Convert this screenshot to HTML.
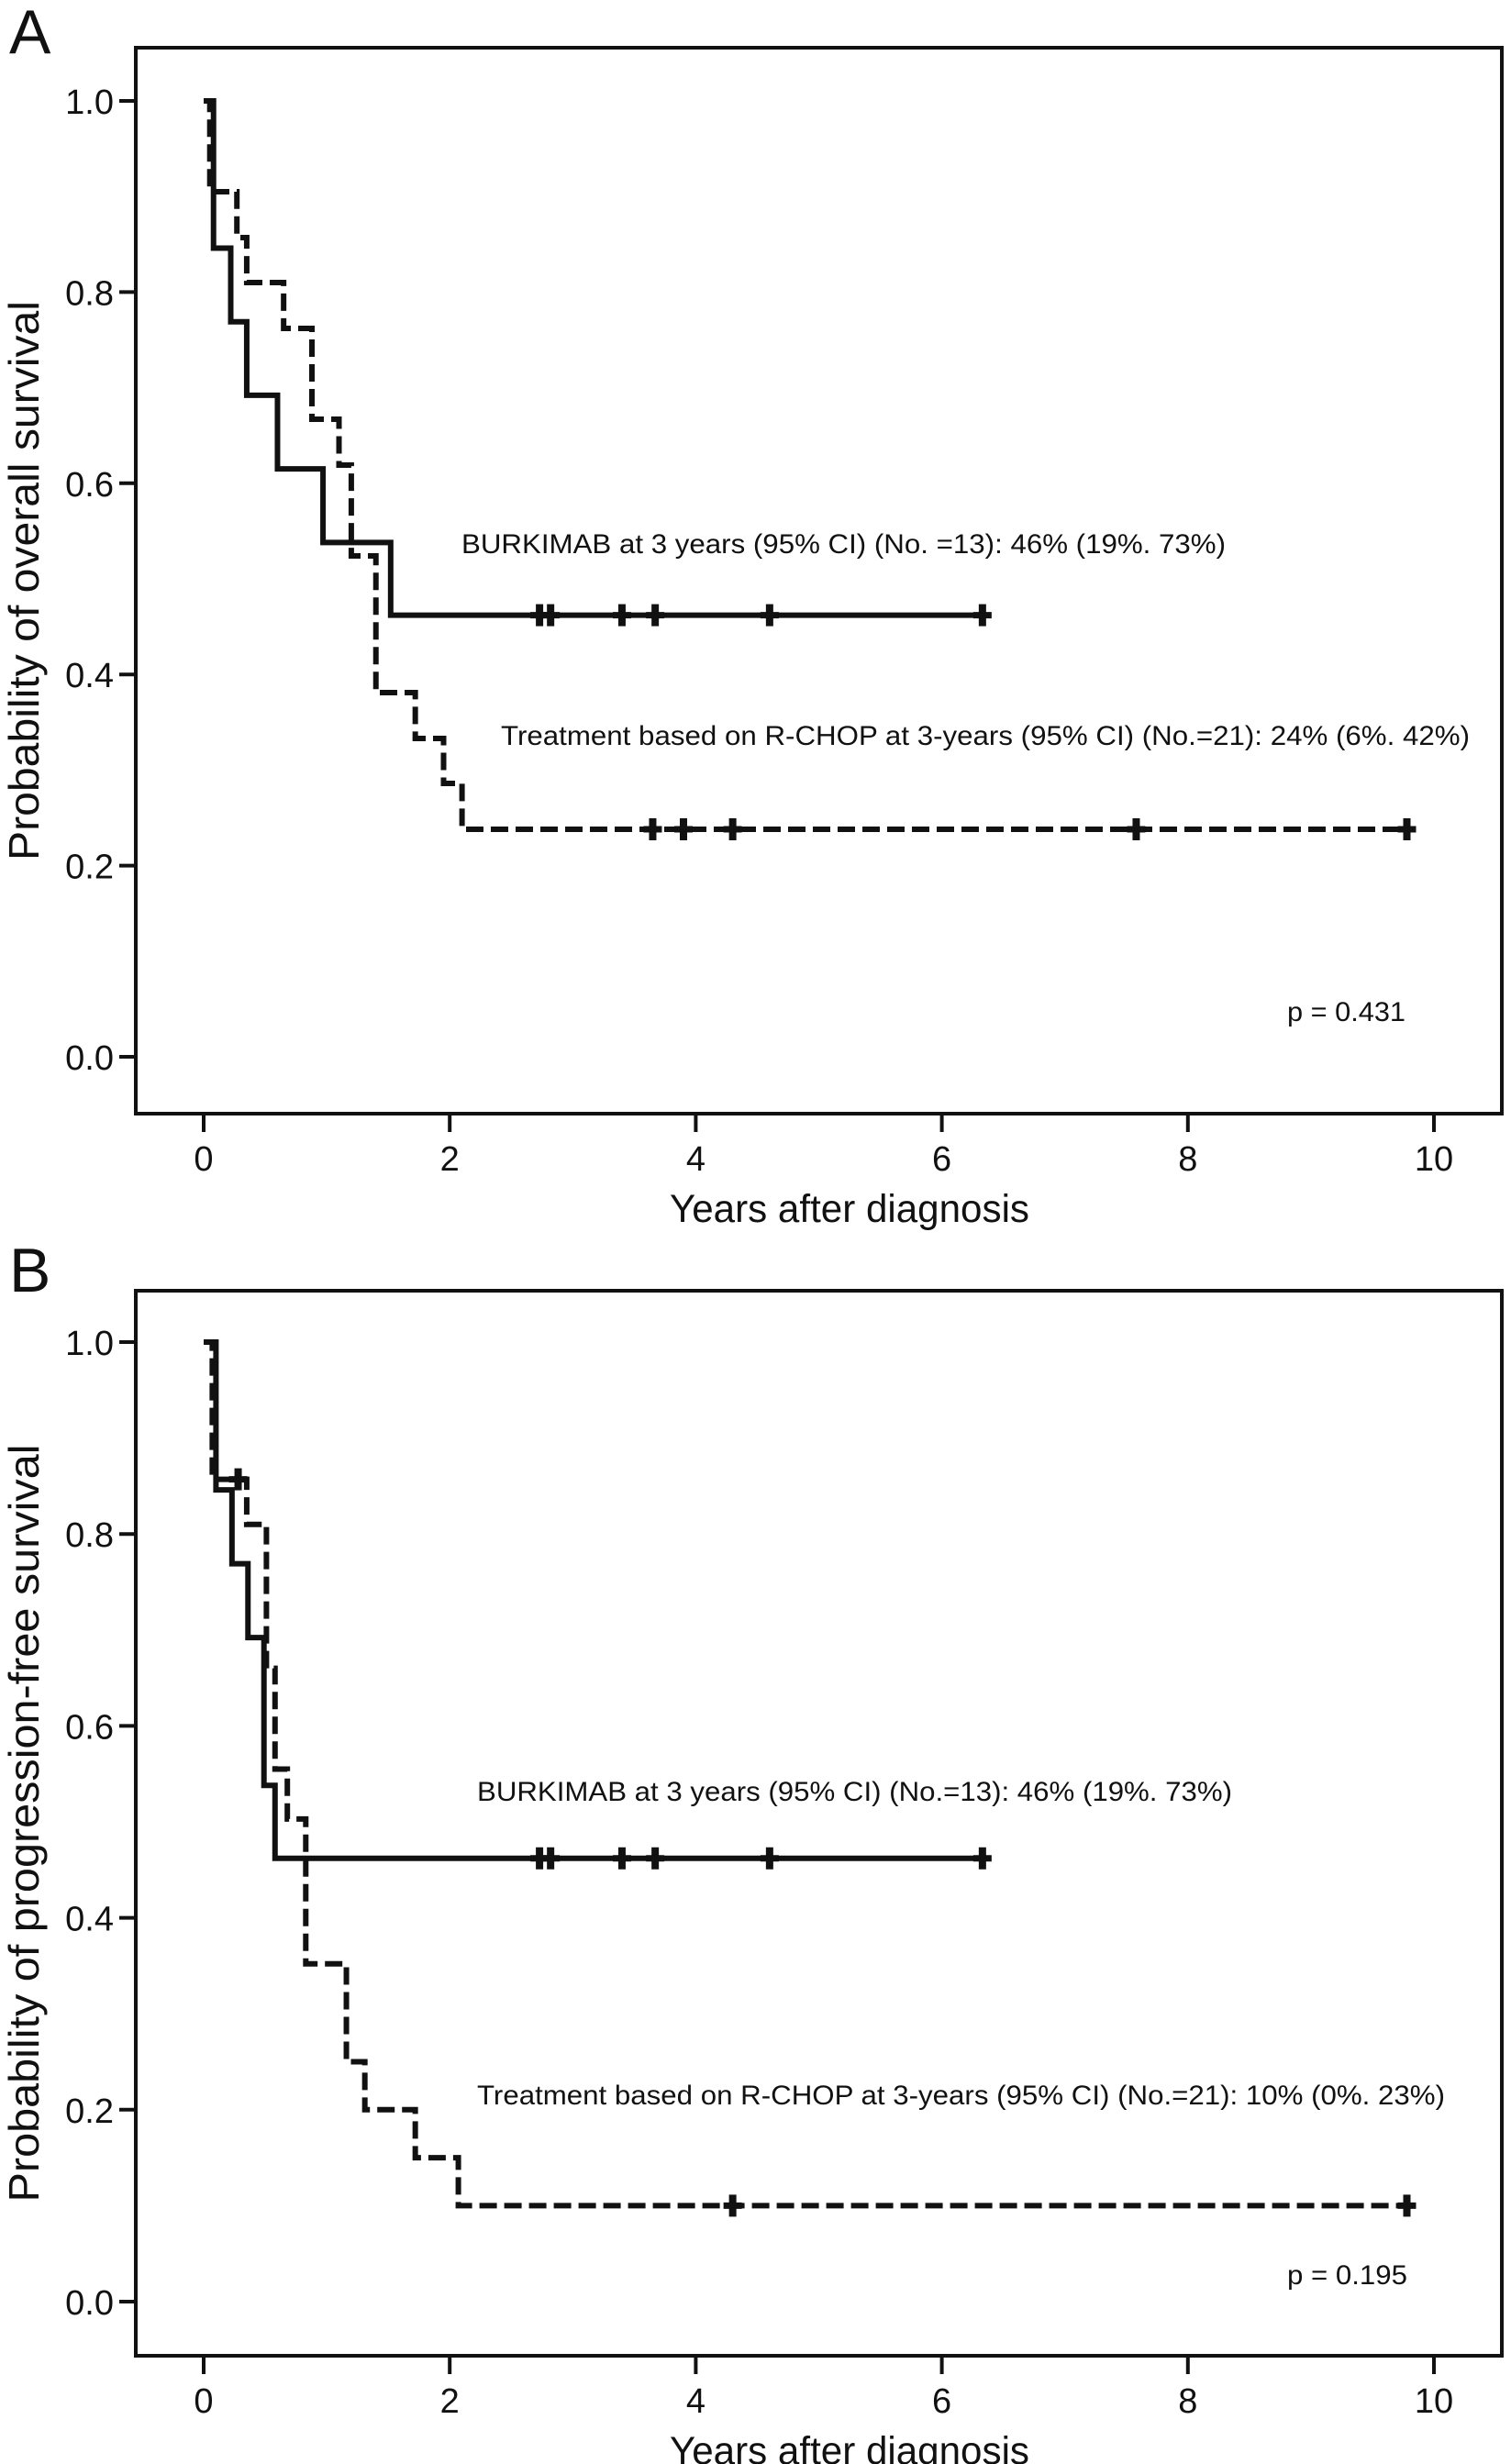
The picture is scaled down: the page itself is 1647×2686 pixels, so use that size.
<!DOCTYPE html>
<html><head><meta charset="utf-8">
<style>
html,body{margin:0;padding:0;background:#fff;}
svg{display:block;}
text{font-family:"Liberation Sans",Arial,sans-serif;fill:#111;}
</style></head>
<body>
<svg id="fig" width="1647" height="2686" viewBox="0 0 1647 2686" xmlns="http://www.w3.org/2000/svg"></svg>
<script>
// ---- data ----
const xTicks = [0, 2, 4, 6, 8, 10];
const yTicks = [0.0, 0.2, 0.4, 0.6, 0.8, 1.0];
const yTickLabels = ["0.0", "0.2", "0.4", "0.6", "0.8", "1.0"];

// Panel A: overall survival (step times, survival after each step)
const aSolidTimes = [0, 0.08, 0.22, 0.35, 0.60, 0.97, 1.52];
const aSolidSurv  = [1.0, 0.846, 0.769, 0.692, 0.615, 0.538, 0.462];
const aSolidEnd = 6.35;
const aSolidCensor = [2.73, 2.82, 3.40, 3.67, 4.60, 6.33];

const aDashTimes = [0, 0.05, 0.27, 0.35, 0.65, 0.88, 1.10, 1.20, 1.40, 1.72, 1.95, 2.10];
const aDashSurv  = [1.0, 0.905, 0.857, 0.810, 0.762, 0.667, 0.619, 0.524, 0.381, 0.333, 0.286, 0.238];
const aDashEnd = 9.80;
const aDashCensor = [3.65, 3.90, 4.30, 7.58, 9.78];

// Panel B: progression-free survival
const bSolidTimes = [0, 0.10, 0.23, 0.36, 0.49, 0.58];
const bSolidSurv  = [1.0, 0.846, 0.769, 0.692, 0.538, 0.462];
const bSolidEnd = 6.35;
const bSolidCensor = [2.73, 2.82, 3.40, 3.67, 4.60, 6.33];

const bDashTimes = [0, 0.07, 0.35, 0.51, 0.58, 0.68, 0.83, 1.16, 1.31, 1.72, 2.07];
const bDashSurv  = [1.0, 0.857, 0.810, 0.660, 0.555, 0.503, 0.352, 0.250, 0.200, 0.150, 0.100];
const bDashEnd = 9.80;
const bDashCensor = [0.28, 4.30, 9.78];

const NS = "http://www.w3.org/2000/svg";
const svg = document.getElementById('fig');
function mk(tag, attrs, parent){
  const e = document.createElementNS(NS, tag);
  for (const k in attrs) e.setAttribute(k, attrs[k]);
  (parent||svg).appendChild(e);
  return e;
}

function panel(cfg){
  const g = mk('g', {});
  
  
  const x = v => cfg.x0 + v*(cfg.x10-cfg.x0)/10;
  const y = v => cfg.y0 - v*(cfg.y0-cfg.y1);

  const lab = mk('text', {x:10, y:cfg.labelY, 'font-size':68}, g);
  lab.textContent = cfg.letter;
  
  

  const box = mk('rect', {x:148, y:cfg.top, width:1637-148, height:cfg.bottom-cfg.top, fill:'none', stroke:'#111', 'stroke-width':4}, g);
  
  

  yTicks.forEach((t,i)=>{
    const l = mk('line', {x1:130, x2:148, y1:y(t), y2:y(t), stroke:'#111','stroke-width':4}, g);
    
    
    const tx = mk('text', {x:124, y:y(t)+14, 'font-size':38, 'text-anchor':'end'}, g);
    tx.textContent = yTickLabels[i];
    
    
  });
  xTicks.forEach(t=>{
    const l = mk('line', {x1:x(t), x2:x(t), y1:cfg.bottom, y2:cfg.bottom+20, stroke:'#111','stroke-width':4}, g);
    
    
    const tx = mk('text', {x:x(t), y:cfg.bottom+62, 'font-size':38, 'text-anchor':'middle'}, g);
    tx.textContent = String(t);
    
    
  });

  const xt = mk('text', {x:926, y:cfg.bottom+118, 'font-size':43, 'text-anchor':'middle', textLength:392, lengthAdjust:'spacingAndGlyphs'}, g);
  xt.textContent = 'Years after diagnosis';
  
  
  const yc = (cfg.top+cfg.bottom)/2;
  const yt = mk('text', {x:0, y:0, 'font-size':46, 'text-anchor':'middle', transform:`translate(42 ${yc}) rotate(-90)`, textLength:cfg.ytLen, lengthAdjust:'spacingAndGlyphs'}, g);
  yt.textContent = cfg.ytitle;
  
  

  function curve(times, surv, end, cens, dashed, nm){
    let d = `M${x(times[0])},${y(surv[0])}`;
    for (let i=1;i<times.length;i++){
      d += ` H${x(times[i])} V${y(surv[i])}`;
    }
    d += ` H${x(end)}`;
    const p = mk('path', {d:d, fill:'none', stroke:'#111', 'stroke-width':6, 'stroke-linejoin':'miter',
      'stroke-dasharray': dashed ? '19 8' : 'none'}, g);
    
    
    cens.forEach(c=>{
      let s = surv[0];
      for (let i=0;i<times.length;i++) if (times[i] <= c) s = surv[i];
      const m = mk('line', {x1:x(c), x2:x(c), y1:y(s)-12, y2:y(s)+12, stroke:'#111', 'stroke-width':8}, g);
      
      
      const h = mk('line', {x1:x(c)-10, x2:x(c)+10, y1:y(s), y2:y(s), stroke:'#111', 'stroke-width':7}, g);
      
      
    });
  }
  curve(cfg.dT, cfg.dS, cfg.dE, cfg.dC, true, 'rchop');
  curve(cfg.sT, cfg.sS, cfg.sE, cfg.sC, false, 'burkimab');

  cfg.notes.forEach(n=>{
    const t = mk('text', {x:n.x, y:n.y, 'font-size':30, textLength:n.w, lengthAdjust:'spacingAndGlyphs'}, g);
    t.textContent = n.t;
    
    
  });
}

panel({name:'panel-a-overall-survival', letter:'A', labelY:58, top:52, bottom:1214, x0:222, x10:1563, y0:1152, y1:110,
  ytitle:'Probability of overall survival', ytLen:610,
  sT:aSolidTimes, sS:aSolidSurv, sE:aSolidEnd, sC:aSolidCensor,
  dT:aDashTimes, dS:aDashSurv, dE:aDashEnd, dC:aDashCensor,
  notes:[
    {x:503, y:603, w:833, t:'BURKIMAB at 3 years (95% CI) (No. =13): 46% (19%. 73%)', name:'burkimab-annotation'},
    {x:546, y:812, w:1056, t:'Treatment based on R-CHOP at 3-years (95% CI) (No.=21): 24% (6%. 42%)', name:'rchop-annotation'},
    {x:1403, y:1113, w:129, t:'p = 0.431', name:'p-value'}
  ]});

panel({name:'panel-b-progression-free-survival', letter:'B', labelY:1408, top:1407, bottom:2568, x0:222, x10:1563, y0:2509, y1:1463,
  ytitle:'Probability of progression-free survival', ytLen:826,
  sT:bSolidTimes, sS:bSolidSurv, sE:bSolidEnd, sC:bSolidCensor,
  dT:bDashTimes, dS:bDashSurv, dE:bDashEnd, dC:bDashCensor,
  notes:[
    {x:520, y:1963, w:823, t:'BURKIMAB at 3 years (95% CI) (No.=13): 46% (19%. 73%)', name:'burkimab-annotation'},
    {x:520, y:2294, w:1055, t:'Treatment based on R-CHOP at 3-years (95% CI) (No.=21): 10% (0%. 23%)', name:'rchop-annotation'},
    {x:1403, y:2490, w:131, t:'p = 0.195', name:'p-value'}
  ]});
</script>
</body></html>
